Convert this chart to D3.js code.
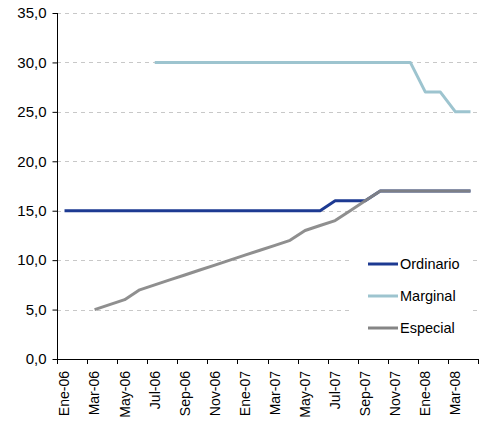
<!DOCTYPE html>
<html>
<head>
<meta charset="utf-8">
<script src="https://cdn.jsdelivr.net/npm/d3@7"></script>
<style>
  html, body { margin: 0; padding: 0; background: #ffffff; }
  svg { display: block; font-family: "Liberation Sans", Arial, sans-serif; }
</style>
</head>
<body>
<svg id="chart" width="481" height="421"></svg>
<script>
const months = ["Ene-06","Feb-06","Mar-06","Abr-06","May-06","Jun-06","Jul-06","Ago-06","Sep-06","Oct-06","Nov-06","Dic-06",
                "Ene-07","Feb-07","Mar-07","Abr-07","May-07","Jun-07","Jul-07","Ago-07","Sep-07","Oct-07","Nov-07","Dic-07",
                "Ene-08","Feb-08","Mar-08","Abr-08"];
const ordinario = [15,15,15,15,15,15,15,15,15,15,15,15,15,15,15,15,15,15,16,16,16,17,17,17,17,17,17,17];
const marginal  = [null,null,null,null,null,null,30,30,30,30,30,30,30,30,30,30,30,30,30,30,30,30,30,30,27,27,25,25];
const especial  = [null,null,5,5.5,6,7,7.5,8,8.5,9,9.5,10,10.5,11,11.5,12,13,13.5,14,15,16,17,17,17,17,17,17,17];
const yTicks = [0,5,10,15,20,25,30,35];
const seriesNames = ["Ordinario","Marginal","Especial"];
const seriesColors = ["#1d3a92","#9dc4cf","#858585"];

(function () {
const svg = d3.select("#chart");
const pLeft = 57, pRight = 478, pTop = 13, pBottom = 359;

const x = d3.scaleBand().domain(months).range([pLeft, pRight]).padding(0);
const y = d3.scaleLinear().domain([0, 35]).range([pBottom, pTop]);
const locale = d3.formatLocale({decimal: ",", thousands: ".", grouping: [3], currency: ["", "€"]});
const fmt = locale.format(".1f");

// gridlines
svg.append("g").selectAll("line").data(yTicks.filter(d => d > 0)).join("line")
  .attr("x1", pLeft).attr("x2", pRight)
  .attr("y1", d => Math.round(y(d)) + 0.5).attr("y2", d => Math.round(y(d)) + 0.5)
  .attr("stroke", "#c8c8c8").attr("stroke-width", 1).attr("stroke-dasharray", "4,4");

// legend background (covers gridlines)
const legend = svg.append("g");
legend.append("rect").attr("x", 352).attr("y", 246).attr("width", 120).attr("height", 98).attr("fill", "#ffffff");

// lines
const line = d3.line()
  .defined(d => d != null)
  .x((d, i) => x(months[i]) + x.bandwidth() / 2)
  .y(d => y(d));

[ordinario, marginal, especial].forEach((s, k) => {
  svg.append("path").datum(s)
    .attr("fill", "none")
    .attr("stroke", seriesColors[k])
    .attr("stroke-width", 3)
    .attr("stroke-linejoin", "round")
    .attr("opacity", k === 2 ? 0.92 : 1)
    .attr("d", line);
});

// Y axis
const yAxis = d3.axisLeft(y).tickValues(yTicks).tickFormat(fmt).tickSize(5).tickPadding(6);
const gy = svg.append("g").attr("transform", `translate(${pLeft + 0.5},0)`).call(yAxis);
gy.select(".domain").attr("stroke", "#000").attr("d", `M0,${y(35)}V${pBottom}`);
gy.selectAll(".tick line").attr("stroke", "#000");
gy.selectAll(".tick text").attr("font-size", 15).attr("fill", "#000").attr("font-family", "Liberation Sans, Arial, sans-serif");

// X axis: tick marks at boundaries of each 2-month group
const gx = svg.append("g");
gx.append("line").attr("x1", pLeft).attr("x2", pRight + 0.5)
  .attr("y1", pBottom + 0.5).attr("y2", pBottom + 0.5).attr("stroke", "#000");
const tickMonths = months.filter((m, i) => i % 2 === 0);
const tickXs = tickMonths.map(m => x(m)).concat([x(months[months.length - 1]) + x.bandwidth()]);
gx.selectAll("line.tk").data(tickXs).join("line").attr("class", "tk")
  .attr("x1", d => Math.round(d) + 0.5).attr("x2", d => Math.round(d) + 0.5)
  .attr("y1", pBottom).attr("y2", pBottom + 5).attr("stroke", "#000");
gx.selectAll("text").data(tickMonths).join("text")
  .attr("transform", d => `translate(${x(d) + x.bandwidth() / 2},${pBottom + 12}) rotate(-90)`)
  .attr("text-anchor", "end")
  .attr("dy", "0.35em")
  .attr("font-size", 14)
  .attr("fill", "#000")
  .text(d => d);

// legend entries
seriesNames.forEach((n, k) => {
  const ly = 264 + k * 32;
  legend.append("line").attr("x1", 368).attr("x2", 398).attr("y1", ly).attr("y2", ly)
    .attr("stroke", seriesColors[k]).attr("stroke-width", 3);
  legend.append("text").attr("x", 400).attr("y", ly).attr("dy", "0.35em")
    .attr("font-size", 14.5).attr("fill", "#000").text(n);
});
})();
</script>
</body>
</html>
